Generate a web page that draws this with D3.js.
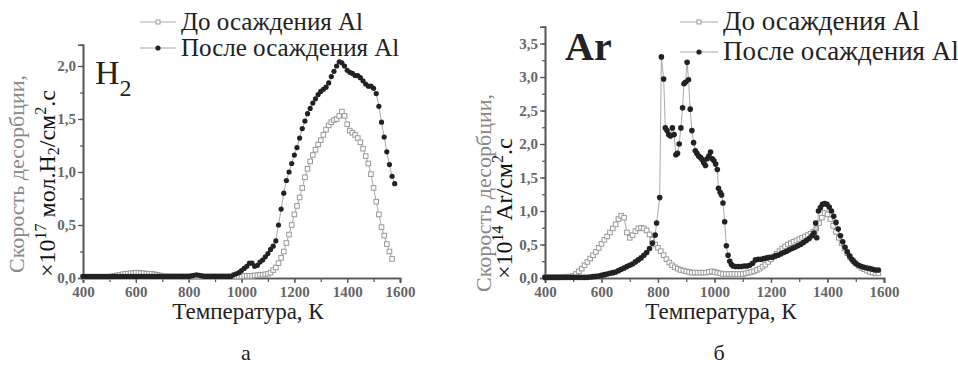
<!DOCTYPE html>
<html><head><meta charset="utf-8">
<script src="https://cdn.jsdelivr.net/npm/d3@7"></script>
<style>
body{margin:0;background:#fff;}
#c text, #c tspan { font-family: "Liberation Serif", "Tinos", "FreeSerif", "Times New Roman" !important; }
</style>
</head>
<body><svg id="c" width="958" height="371"></svg>
<script>
// ---------- DATA ----------
const legendLabels = ["До осаждения Al", "После осаждения Al"];
const xTicks = [400, 600, 800, 1000, 1200, 1400, 1600];
const h2YTicks = [0, 0.5, 1.0, 1.5, 2.0];
const arYTicks = [0, 0.5, 1.0, 1.5, 2.0, 2.5, 3.0, 3.5];

// H2, before Al deposition (open squares)
const h2BeforeT = d3.range(400, 1571, 10);
const h2BeforeV = [
 0.01,0.01,0.01,0.01,0.01,0.01,0.01,0.01,0.01,0.01,0.01,          // 400-500
 0.015,0.02,0.025,0.03,0.035,0.04,0.04,0.045,0.045,0.05,           // 510-600
 0.05,0.045,0.045,0.04,0.04,0.04,0.035,0.03,0.025,0.02,            // 610-700
 0.015,0.015,0.015,0.015,0.015,0.015,0.015,0.015,0.015,0.015,      // 710-800
 0.015,0.015,0.015,0.015,0.015,0.015,0.015,0.015,0.015,0.015,      // 810-900
 0.015,0.015,0.015,0.015,0.015,0.015,0.015,0.015,0.015,0.015,      // 910-1000
 0.02,0.02,0.02,0.02,0.025,0.025,0.03,0.03,0.035,0.04,             // 1010-1100
 0.05,0.075,0.10,0.14,0.19,0.25,0.33,0.41,0.50,0.60,               // 1110-1200
 0.68,0.76,0.85,0.95,1.03,1.10,1.16,1.21,1.26,1.30,                // 1210-1300
 1.35,1.40,1.44,1.47,1.49,1.50,1.53,1.57,1.53,1.45,                // 1310-1400
 1.39,1.37,1.35,1.32,1.28,1.22,1.15,1.08,0.98,0.85,                // 1410-1500
 0.72,0.60,0.48,0.40,0.32,0.25,0.18                                // 1510-1570
];
// H2, after Al deposition (filled circles)
const h2AfterT = d3.range(400, 1581, 10);
const h2AfterV = [
 0.015,0.015,0.015,0.015,0.015,0.015,0.015,0.015,0.015,0.015,0.015, // 400-500
 0.015,0.015,0.015,0.015,0.015,0.015,0.015,0.015,0.015,0.015,       // 510-600
 0.015,0.015,0.015,0.015,0.015,0.015,0.015,0.015,0.015,0.015,       // 610-700
 0.015,0.015,0.015,0.015,0.015,0.015,0.015,0.015,0.015,0.015,       // 710-800
 0.02,0.025,0.03,0.025,0.02,0.015,0.015,0.015,0.015,0.015,          // 810-900
 0.015,0.015,0.015,0.015,0.015,0.015,0.03,0.04,0.05,0.07,           // 910-1000
 0.09,0.11,0.14,0.14,0.11,0.12,0.15,0.17,0.20,0.23,                 // 1010-1100
 0.27,0.30,0.35,0.50,0.65,0.80,0.92,1.00,1.08,1.16,                 // 1110-1200
 1.23,1.32,1.41,1.48,1.55,1.60,1.65,1.69,1.73,1.76,                 // 1210-1300
 1.78,1.80,1.84,1.90,1.95,2.00,2.04,2.03,2.00,1.96,                 // 1310-1400
 1.94,1.93,1.91,1.91,1.89,1.86,1.83,1.81,1.81,1.79,                 // 1410-1500
 1.74,1.62,1.47,1.33,1.19,1.07,0.96,0.89                            // 1510-1580
];

// Ar, before Al deposition (open squares)
const arBeforeT = d3.range(400, 1581, 10);
const arBeforeV = [
 0.01,0.01,0.01,0.01,0.01,0.01,0.015,0.015,0.02,0.02,               // 400-490
 0.03,0.06,0.10,0.14,0.19,0.24,0.29,0.34,0.39,0.45,                 // 500-590
 0.51,0.57,0.62,0.68,0.74,0.80,0.88,0.93,0.90,0.68,                 // 600-690
 0.60,0.64,0.70,0.74,0.75,0.74,0.71,0.65,0.57,0.50,                 // 700-790
 0.45,0.40,0.34,0.28,0.23,0.19,0.16,0.14,0.12,0.11,                 // 800-890
 0.10,0.09,0.08,0.08,0.08,0.08,0.08,0.08,0.09,0.10,                 // 900-990
 0.09,0.08,0.07,0.06,0.06,0.06,0.06,0.06,0.06,0.06,                 // 1000-1090
 0.06,0.07,0.08,0.09,0.10,0.12,0.14,0.17,0.20,0.24,                 // 1100-1190
 0.28,0.32,0.36,0.40,0.44,0.47,0.50,0.52,0.54,0.56,                 // 1200-1290
 0.58,0.60,0.62,0.64,0.66,0.69,0.74,0.82,0.90,0.97,                 // 1300-1390
 0.95,0.88,0.78,0.69,0.60,0.52,0.44,0.37,0.31,0.26,                 // 1400-1490
 0.22,0.18,0.15,0.13,0.11,0.09,0.08,0.07,0.07                       // 1500-1580
];
// Ar, after Al deposition (filled circles)
const arAfterT = [
 400,410,420,430,440,450,460,470,480,490,500,510,520,530,540,550,560,570,580,590,
 600,610,620,630,640,650,660,670,680,690,700,710,720,730,740,750,760,770,780,790,
 795,806,812,820,826,832,838,844,851,857,863,869,875,881,887,892,897,903,908,914,
 920,926,932,938,944,950,956,962,968,974,980,986,992,998,1004,1010,1014,1020,1025,1030,
 1036,1042,1048,1054,1060,1066,1075,1085,1095,1105,1115,1125,1135,1145,1155,1165,1175,1185,1195,1205,
 1215,1225,1235,1245,1255,1265,1275,1285,1295,1305,1315,1325,1335,1345,1352,1358,1362,1368,1375,1382,
 1390,1398,1406,1414,1422,1430,1438,1446,1454,1462,1470,1478,1486,1494,1502,1510,1520,1530,1540,1550,
 1560,1570,1580
];
const arAfterV = [
 0.01,0.01,0.01,0.01,0.01,0.01,0.01,0.01,0.01,0.01,0.01,0.01,0.01,0.01,0.01,0.01,0.015,0.02,0.025,0.03,
 0.04,0.05,0.06,0.07,0.08,0.09,0.11,0.13,0.15,0.17,0.19,0.21,0.24,0.27,0.30,0.34,0.38,0.44,0.52,0.64,
 0.82,1.20,3.30,2.97,2.24,2.20,2.14,2.12,2.24,2.14,1.84,1.86,2.00,2.24,2.54,2.90,2.92,3.22,2.96,2.52,
 2.20,2.02,1.90,1.86,1.82,1.80,1.77,1.72,1.68,1.78,1.82,1.88,1.78,1.75,1.70,1.62,1.34,1.28,1.24,1.12,
 0.84,0.48,0.34,0.25,0.20,0.18,0.17,0.17,0.17,0.18,0.18,0.19,0.22,0.27,0.28,0.28,0.29,0.30,0.31,0.31,
 0.33,0.34,0.36,0.38,0.40,0.42,0.44,0.46,0.48,0.50,0.53,0.56,0.59,0.63,0.67,0.82,0.60,1.00,1.05,1.10,
 1.11,1.10,1.06,1.00,0.92,0.83,0.73,0.63,0.54,0.46,0.39,0.33,0.28,0.24,0.21,0.19,0.17,0.16,0.15,0.14,
 0.13,0.12,0.12
];

// ---------- DRAW ----------
const svg = d3.select("#c");
const fmt = v => d3.format(".1f")(v).replace(".", ",");
const lineCol = "#aaa", sqCol = "#999", dotCol = "#222", axCol = "#555", tickTxt = "#666";

function panel(o) {
  const g = svg.append("g");
  const x = d3.scaleLinear().domain([400, 1600]).range([o.x0, o.x1]);
  const y = d3.scaleLinear().domain([0, o.ymax]).range([278, o.ytop]);

  const xa = d3.axisBottom(x).tickValues(d3.range(400, 1601, 100)).tickSize(4).tickFormat("");
  const ya = d3.axisLeft(y).tickValues(d3.range(0, o.ymax, 0.25)).tickSize(3).tickFormat("");
  const gx = g.append("g").attr("transform", "translate(0,278)").call(xa);
  const gy = g.append("g").attr("transform", `translate(${o.x0},0)`).call(ya);
  const xb = d3.axisBottom(x).tickValues(xTicks).tickSize(5).tickPadding(3).tickFormat(d3.format("d"));
  const yb = d3.axisLeft(y).tickValues(o.yTicks).tickSize(5).tickPadding(2).tickFormat(fmt);
  const gx2 = g.append("g").attr("transform", "translate(0,278)").call(xb);
  const gy2 = g.append("g").attr("transform", `translate(${o.x0},0)`).call(yb);
  [gx, gy, gx2, gy2].forEach(a => {
    a.attr("font-family", null).attr("font-size", null);
    a.select(".domain").attr("stroke", axCol).attr("stroke-width", 1.6);
    a.selectAll(".tick line").attr("stroke", axCol).attr("stroke-width", 1.2);
    a.selectAll("text").attr("fill", tickTxt).attr("font-size", 15).attr("font-weight", "bold");
  });

  const lineGen = d3.line().x(d => x(d[0])).y(d => y(d[1]));
  const b = o.bT.map((t, i) => [t, o.bV[i]]);
  const a = o.aT.map((t, i) => [t, o.aV[i]]);
  g.append("path").datum(b).attr("d", lineGen).attr("fill", "none").attr("stroke", lineCol).attr("stroke-width", 1);
  g.selectAll(".sq").data(b).enter().append("rect")
    .attr("x", d => x(d[0]) - 2.3).attr("y", d => y(d[1]) - 2.3).attr("width", 4.6).attr("height", 4.6)
    .attr("fill", "#fff").attr("stroke", sqCol).attr("stroke-width", 1);
  g.append("path").datum(a).attr("d", lineGen).attr("fill", "none").attr("stroke", lineCol).attr("stroke-width", 1);
  g.selectAll(".dt").data(a).enter().append("circle")
    .attr("cx", d => x(d[0])).attr("cy", d => y(d[1])).attr("r", o.r).attr("fill", dotCol);

  g.append("text").attr("x", o.xtx).attr("y", 319).attr("text-anchor", "middle")
    .attr("font-size", 23).attr("fill", "#222").text("Температура, К");
  g.append("text").attr("transform", `translate(${o.lab1x},${o.lab1y}) rotate(-90)`)
    .attr("font-size", 22).attr("fill", "#888").text("Скорость десорбции,");
  const t2 = g.append("text").attr("transform", `translate(${o.lab2x},${o.lab2y}) rotate(-90)`)
    .attr("font-size", 24).attr("fill", "#111");
  o.lab2(t2);

  const L = o.leg;
  [0, 1].forEach(i => {
    const yy = L.y[i];
    g.append("line").attr("x1", L.x0).attr("x2", L.x1).attr("y1", yy).attr("y2", yy)
      .attr("stroke", lineCol).attr("stroke-width", 1.2);
    if (i === 0) g.append("rect").attr("x", (L.x0 + L.x1) / 2 - 2).attr("y", yy - 2).attr("width", 4).attr("height", 4)
      .attr("fill", "#fff").attr("stroke", sqCol);
    else g.append("circle").attr("cx", (L.x0 + L.x1) / 2).attr("cy", yy).attr("r", 2.6).attr("fill", dotCol);
    g.append("text").attr("x", L.tx).attr("y", yy + 8).attr("font-size", L.fs).attr("fill", "#222").text(legendLabels[i]);
  });
  return g;
}

panel({
  x0: 83, x1: 400, ymax: 2.2, ytop: 44.8, yTicks: h2YTicks, r: 2.6, xtx: 248,
  bT: h2BeforeT, bV: h2BeforeV, aT: h2AfterT, aV: h2AfterV,
  lab1x: 24, lab1y: 273, lab2x: 55, lab2y: 277,
  lab2: t => {
    t.append("tspan").text("×10");
    t.append("tspan").attr("font-size", 16).attr("dy", -9).text("17");
    t.append("tspan").attr("dy", 9).text(" мол.H");
    t.append("tspan").attr("font-size", 16).attr("dy", 4).text("2");
    t.append("tspan").attr("dy", -4).text("/см");
    t.append("tspan").attr("font-size", 16).attr("dy", -9).text("2");
    t.append("tspan").attr("dy", 9).text(".с");
  },
  leg: { x0: 140, x1: 176, tx: 181, y: [22, 48], fs: 25 }
});
panel({
  x0: 545, x1: 884, ymax: 3.75, ytop: 26.75, yTicks: arYTicks, r: 2.8, xtx: 721,
  bT: arBeforeT, bV: arBeforeV, aT: arAfterT, aV: arAfterV,
  lab1x: 491, lab1y: 292, lab2x: 512, lab2y: 279,
  lab2: t => {
    t.append("tspan").text("×10");
    t.append("tspan").attr("font-size", 16).attr("dy", -9).text("14");
    t.append("tspan").attr("dy", 9).text(" Ar/см");
    t.append("tspan").attr("font-size", 16).attr("dy", -9).text("2");
    t.append("tspan").attr("dy", 9).text(".с");
  },
  leg: { x0: 680, x1: 718, tx: 723, y: [22, 52], fs: 27 }
});

const h2 = svg.append("text").attr("x", 95).attr("y", 84).attr("font-size", 34).attr("fill", "#222");
h2.append("tspan").text("H");
h2.append("tspan").attr("font-size", 24).attr("dy", 12).text("2");
svg.append("text").attr("x", 565).attr("y", 60).attr("font-size", 40).attr("font-weight", "bold").attr("fill", "#222").text("Ar");

svg.append("text").attr("x", 246).attr("y", 360).attr("text-anchor", "middle").attr("font-size", 22).attr("fill", "#222").text("а");
svg.append("text").attr("x", 719).attr("y", 360).attr("text-anchor", "middle").attr("font-size", 22).attr("fill", "#222").text("б");
</script></body></html>
